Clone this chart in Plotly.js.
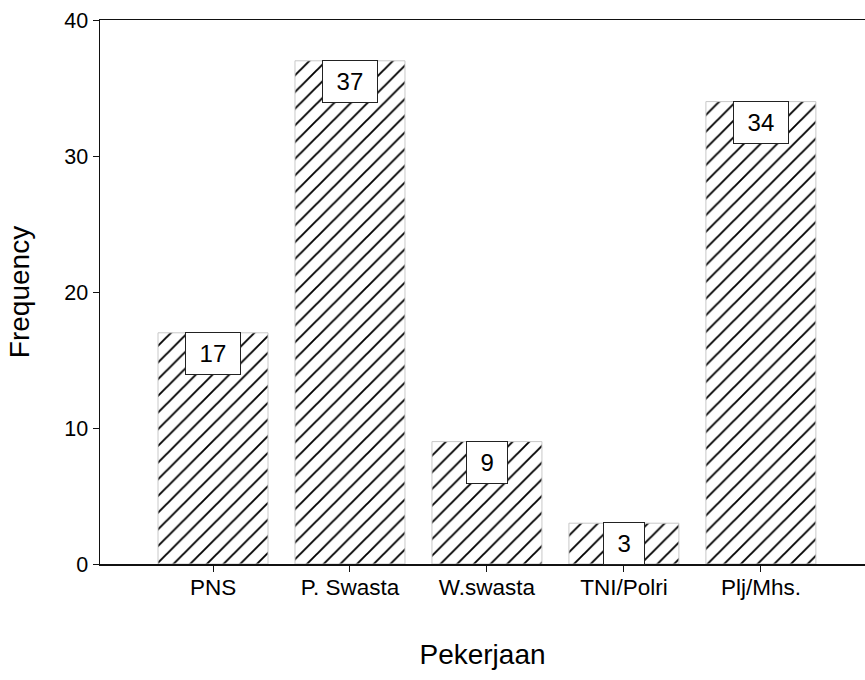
<!DOCTYPE html>
<html>
<head>
<meta charset="utf-8">
<script src="https://cdn.plot.ly/plotly-3.0.1.min.js"></script>
<style>html,body{margin:0;padding:0;background:#fff;}#chart{width:865px;height:680px;}</style>
</head>
<body>
<div id="chart"></div>
<script>
var categories = ["PNS", "P. Swasta", "W.swasta", "TNI/Polri", "Plj/Mhs."];
var frequency = [17, 37, 9, 3, 34];
var yTicks = [0, 10, 20, 30, 40];

var FONT = "Arial, 'Liberation Sans', sans-serif";

var trace = {
  type: "bar",
  x: categories,
  y: frequency,
  width: 0.803,
  marker: {
    color: "white",
    line: {color: "#c8c8c8", width: 1},
    pattern: {shape: "/", size: 11.8, solidity: 0.16, fgcolor: "black", bgcolor: "white", fgopacity: 1}
  },
  hoverinfo: "none"
};

var annotations = categories.map(function (c, i) {
  var txt = String(frequency[i]);
  return {
    x: c, y: frequency[i], xref: "x", yref: "y",
    text: txt, showarrow: false,
    yanchor: "top", xanchor: "center", yshift: 1,
    font: {family: FONT, size: 24, color: "black"},
    bgcolor: "white", bordercolor: "#222", borderwidth: 1, borderpad: 0,
    width: txt.length * 13.4 + 27, height: 41
  };
});

var layout = {
  width: 865, height: 680,
  margin: {l: 100, r: 0, t: 20, b: 116},
  paper_bgcolor: "white", plot_bgcolor: "white",
  showlegend: false,
  font: {family: FONT, color: "black"},
  xaxis: {
    type: "category",
    range: [-0.825, 4.76],
    showline: true, linecolor: "#111", linewidth: 1.5, mirror: true,
    ticks: "outside", ticklen: 6, tickcolor: "#111", tickwidth: 1,
    ticklabelstandoff: -4,
    showgrid: false, zeroline: false,
    tickfont: {family: FONT, size: 22.5, color: "black"},
    title: {text: "Pekerjaan", font: {family: FONT, size: 28, color: "black"}, standoff: 46}
  },
  yaxis: {
    range: [0, 40],
    tickvals: yTicks, ticktext: yTicks.map(String),
    showline: true, linecolor: "#111", linewidth: 1.5,
    ticks: "outside", ticklen: 6, tickcolor: "#111", tickwidth: 1,
    showgrid: false, zeroline: false,
    tickfont: {family: FONT, size: 21.5, color: "black"},
    title: {text: "Frequency", font: {family: FONT, size: 28, color: "black"}, standoff: 26}
  },
  annotations: annotations,
  bargap: 0.2
};

Plotly.newPlot("chart", [trace], layout, {staticPlot: true, displayModeBar: false});
</script>
</body>
</html>
